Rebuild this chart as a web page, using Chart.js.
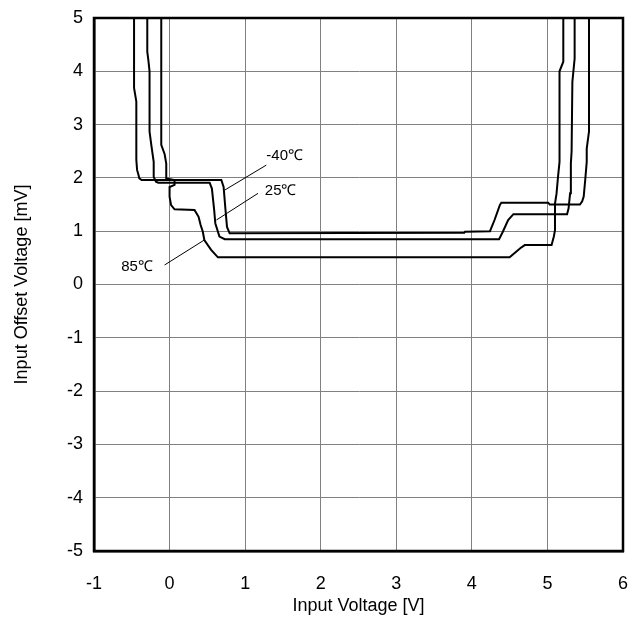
<!DOCTYPE html>
<html>
<head>
<meta charset="utf-8">
<script src="https://cdn.jsdelivr.net/npm/chart.js@4.4.1/dist/chart.umd.min.js"></script>
<style>
  html, body { margin: 0; padding: 0; background: #fff; }
  #wrap { width: 638px; height: 628px; }
</style>
</head>
<body>
<div id="wrap"><canvas id="offsetChart" width="638" height="628"></canvas></div>
<script>
// axis ranges / ticks
const xTicks = [-1, 0, 1, 2, 3, 4, 5, 6];
const yTicks = [-5, -4, -3, -2, -1, 0, 1, 2, 3, 4, 5];

// -40 C
const xM40 = [-0.47, -0.47, -0.44, -0.44, -0.43, -0.41, -0.40, -0.37, 0.685, 0.715, 0.74, 0.76, 0.795, 0.85, 3.90, 3.91, 4.24, 4.30, 4.37, 4.39, 5.01, 5.03, 5.43, 5.46, 5.48, 5.50, 5.52, 5.52, 5.55, 5.55];
const yM40 = [5, 3.69, 3.43, 2.34, 2.15, 2.05, 1.99, 1.96, 1.96, 1.83, 1.40, 1.08, 0.96, 0.96, 0.97, 0.99, 1.00, 1.21, 1.49, 1.535, 1.535, 1.50, 1.50, 1.56, 1.65, 1.96, 2.30, 2.55, 2.87, 5];

// 25 C
const x25 = [-0.295, -0.295, -0.28, -0.265, -0.265, -0.24, -0.21, -0.21, -0.18, -0.15, 0.53, 0.56, 0.59, 0.605, 0.66, 0.73, 4.36, 4.41, 4.48, 4.55, 5.26, 5.28, 5.30, 5.31, 5.32, 5.33, 5.36, 5.36];
const y25 = [5, 4.37, 4.20, 4.00, 2.87, 2.60, 2.30, 2.02, 1.93, 1.91, 1.91, 1.80, 1.40, 1.15, 0.90, 0.85, 0.85, 0.99, 1.21, 1.32, 1.32, 1.43, 1.71, 2.27, 2.50, 3.80, 4.24, 5];

// 85 C
const x85 = [-0.11, -0.11, -0.066, -0.044, -0.044, 0.066, 0.066, 0.0, 0.0, 0.02, 0.066, 0.33, 0.384, 0.41, 0.44, 0.46, 0.55, 0.64, 4.50, 4.64, 4.70, 5.055, 5.07, 5.085, 5.10, 5.10, 5.12, 5.14, 5.16, 5.16, 5.21, 5.21];
const y85 = [5, 2.62, 2.45, 2.27, 1.99, 1.96, 1.87, 1.83, 1.65, 1.49, 1.41, 1.40, 1.27, 1.12, 0.99, 0.835, 0.65, 0.51, 0.51, 0.68, 0.74, 0.74, 0.82, 0.90, 1.02, 1.52, 1.70, 2.02, 2.30, 4.00, 4.18, 5];

// curve labels: text, leader start (on curve), leader end, text anchor
const labelTexts = ['-40℃', '25℃', '85℃'];
const leaderFrom = [[0.728, 1.77], [0.62, 1.21], [0.46, 0.835]];
const leaderTo = [[1.28, 2.24], [1.17, 1.71], [-0.066, 0.366]];
const textAt = [[1.28, 2.41], [1.26, 1.76], [-0.22, 0.33]];

function toPoints(xs, ys) {
  return xs.map((x, i) => ({ x: x, y: ys[i] }));
}

const fontFamily = '"Liberation Sans", Arial, sans-serif';

const curveLabels = {
  id: 'curveLabels',
  afterDatasetsDraw(chart) {
    const ctx = chart.ctx;
    const xs = chart.scales.x;
    const ys = chart.scales.y;
    ctx.save();
    ctx.strokeStyle = '#000';
    ctx.lineWidth = 1;
    ctx.fillStyle = '#000';
    ctx.font = '15px ' + fontFamily;
    ctx.textBaseline = 'middle';
    labelTexts.forEach((t, i) => {
      ctx.beginPath();
      ctx.moveTo(xs.getPixelForValue(leaderFrom[i][0]), ys.getPixelForValue(leaderFrom[i][1]));
      ctx.lineTo(xs.getPixelForValue(leaderTo[i][0]), ys.getPixelForValue(leaderTo[i][1]));
      ctx.stroke();
      ctx.textAlign = i === 2 ? 'right' : 'left';
      ctx.fillText(t, xs.getPixelForValue(textAt[i][0]), ys.getPixelForValue(textAt[i][1]));
    });
    ctx.restore();
  },
  afterDraw(chart) {
    const { ctx, chartArea } = chart;
    ctx.save();
    ctx.strokeStyle = '#000';
    ctx.lineWidth = 2.5;
    ctx.strokeRect(chartArea.left, chartArea.top, chartArea.right - chartArea.left, chartArea.bottom - chartArea.top);
    ctx.restore();
  }
};

const lineStyle = {
  showLine: true,
  borderColor: '#000',
  borderWidth: 2,
  pointRadius: 0,
  tension: 0,
  fill: false
};

const chart = new Chart(document.getElementById('offsetChart').getContext('2d'), {
  type: 'scatter',
  data: {
    datasets: [
      Object.assign({ label: '-40℃', data: toPoints(xM40, yM40) }, lineStyle),
      Object.assign({ label: '25℃', data: toPoints(x25, y25) }, lineStyle),
      Object.assign({ label: '85℃', data: toPoints(x85, y85) }, lineStyle)
    ]
  },
  options: {
    responsive: false,
    animation: false,
    layout: { padding: { left: 0, top: 18, right: 15, bottom: 0 } },
    plugins: {
      legend: { display: false },
      tooltip: { enabled: false }
    },
    scales: {
      x: {
        type: 'linear',
        min: xTicks[0],
        max: xTicks[xTicks.length - 1],
        afterBuildTicks: (s) => { s.ticks = xTicks.map(v => ({ value: v })); },
        afterFit: (s) => { s.height = 77; s.paddingLeft = 0; s.paddingRight = 0; },
        ticks: { color: '#000', font: { size: 18, family: fontFamily }, padding: 22, maxRotation: 0 },
        grid: { color: '#808080', lineWidth: 1, drawTicks: false },
        border: { color: '#000', width: 2.5 },
        title: {
          display: true,
          text: 'Input Voltage [V]',
          color: '#000',
          font: { size: 18, family: fontFamily },
          padding: { top: 0, bottom: 11 }
        }
      },
      y: {
        type: 'linear',
        min: yTicks[0],
        max: yTicks[yTicks.length - 1],
        afterBuildTicks: (s) => { s.ticks = yTicks.map(v => ({ value: v })); },
        afterFit: (s) => { s.width = 94; s.paddingTop = 0; s.paddingBottom = 0; },
        ticks: { color: '#000', font: { size: 18, family: fontFamily }, padding: 11 },
        grid: { color: '#808080', lineWidth: 1, drawTicks: false },
        border: { color: '#000', width: 2.5 },
        title: {
          display: true,
          text: 'Input Offset Voltage [mV]',
          color: '#000',
          font: { size: 18, family: fontFamily },
          padding: { top: 11, bottom: 0 }
        }
      }
    }
  },
  plugins: [curveLabels]
});
</script>
</body>
</html>
